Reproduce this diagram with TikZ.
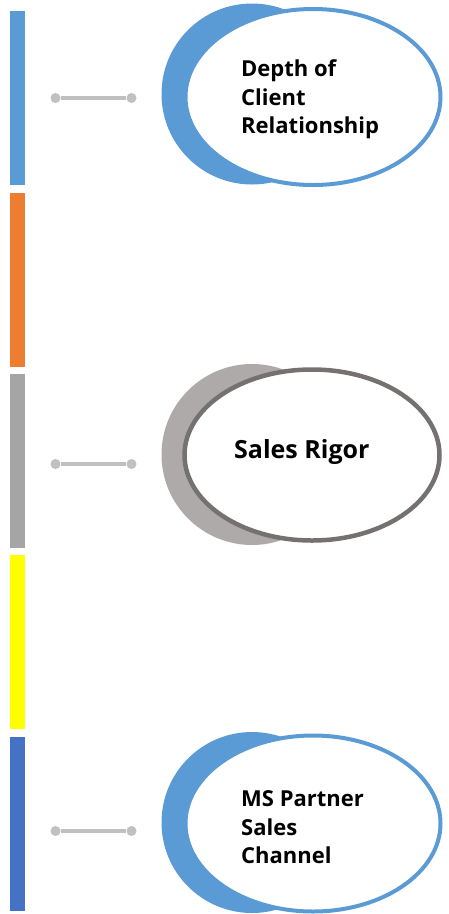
\documentclass[tikz,border=0pt]{standalone}
\usepackage{fontspec}
\setmainfont{Open Sans}
\usetikzlibrary{shapes.geometric}
\definecolor{cblue}{HTML}{5B9BD5}
\definecolor{corange}{HTML}{ED7D31}
\definecolor{cgray}{HTML}{A5A5A5}
\definecolor{cyellow}{HTML}{FFFF00}
\definecolor{cdblue}{HTML}{4472C4}
\definecolor{cback}{HTML}{AEAAAA}
\definecolor{cedge}{HTML}{767171}
\definecolor{cline}{HTML}{C0C0C0}
\tikzset{
  bar/.style={rectangle, inner sep=0, minimum width=15pt, minimum height=174pt, anchor=north west},
  dotn/.style={circle, inner sep=0, minimum size=10pt, fill=cline},
  conn/.style={draw=cline, line width=3.3pt},
  backc/.style={circle, inner sep=0, minimum size=181pt},
  fronte/.style={ellipse, inner sep=0, fill=white, minimum width=255pt, minimum height=176pt},
  lbl/.style={anchor=west, align=left, inner sep=0, font=\bfseries\fontsize{22}{28.5}\selectfont},
}
\begin{document}
\begin{tikzpicture}[x=1pt,y=-1pt]
\useasboundingbox (0,0) rectangle (449,914);
% bars
\node[bar, fill=cblue]   (b1) at (10,11) {};
\node[bar, fill=corange] (b2) at (10,193) {};
\node[bar, fill=cgray]   (b3) at (10,374) {};
\node[bar, fill=cyellow] (b4) at (10,555) {};
\node[bar, fill=cdblue]  (b5) at (10,737) {};
% connectors
\node[dotn] (d1a) at (55.5,98) {};
\node[dotn] (d1b) at (131.5,98) {};
\draw[conn] (d1a) -- (d1b);
\node[dotn] (d2a) at (55.5,464) {};
\node[dotn] (d2b) at (131.5,464) {};
\draw[conn] (d2a) -- (d2b);
\node[dotn] (d3a) at (55.5,831) {};
\node[dotn] (d3b) at (131.5,831) {};
\draw[conn] (d3a) -- (d3b);
% top
\node[backc, fill=cblue] (c1) at (252,94) {};
\node[fronte, draw=cblue, line width=4pt] (e1) at (313,97) {};
\node[lbl] (t1) at (241,99.5) {Depth of\\Client\\Relationship};
% middle
\node[backc, fill=cback] (c2) at (252,454.5) {};
\node[fronte, draw=cedge, line width=4.5pt, minimum height=171pt] (e2) at (312,455) {};
\node[anchor=base west, inner sep=0, font=\bfseries\fontsize{25}{29}\selectfont] (t2) at (234,458) {Sales Rigor};
% bottom
\node[backc, fill=cblue] (c3) at (252,822.5) {};
\node[fronte, draw=cblue, line width=4pt] (e3) at (313,823.5) {};
\node[lbl] (t3) at (241,827.5) {MS Partner\\Sales\\Channel};
\end{tikzpicture}
\end{document}
